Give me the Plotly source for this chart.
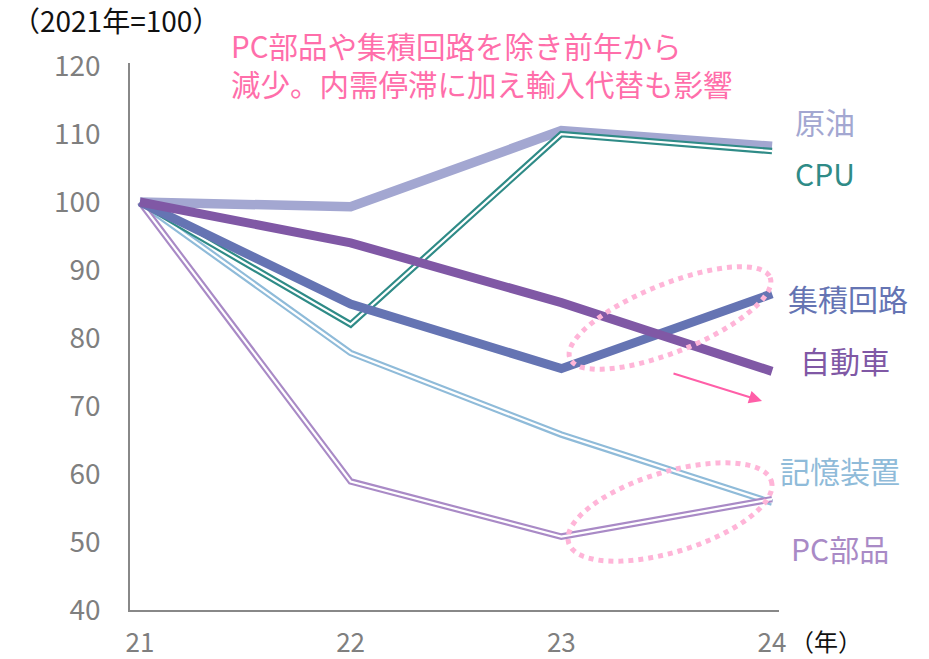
import math
import plotly.graph_objects as go

# ---- data ----
years = [21, 22, 23, 24]
year_labels = ["21", "22", "23", "24"]
crude_oil = [100, 99.3, 110.5, 108.2]      # 原油
cpu = [100, 82.0, 110.0, 107.5]            # CPU
ic = [100, 85.0, 75.5, 86.5]               # 集積回路
autos = [100, 94.0, 85.2, 75.1]            # 自動車
storage = [100, 77.8, 65.8, 55.8]          # 記憶装置
pc_parts = [100, 58.9, 50.8, 56.3]         # PC部品
y_ticks = [40, 50, 60, 70, 80, 90, 100, 110, 120]

FONT = "Noto Sans CJK JP, Noto Sans, sans-serif"

# layout geometry
W, H = 929, 659
ML, MR, MT, MB = 130, 150, 63, 49
XR = [20.953, 24.033]
YR = [40, 120.45]
PW = W - ML - MR
PH = H - MT - MB


def px2x(px):
    return XR[0] + (px - ML) / PW * (XR[1] - XR[0])


def px2y(py):
    return YR[0] + (H - MB - py) / PH * (YR[1] - YR[0])


def fx(px):
    return (px - ML) / PW


def fy(py):
    return 1 - (py - MT) / PH


fig = go.Figure()


def single(y, color, width):
    fig.add_trace(go.Scatter(x=years, y=y, mode="lines",
                             line=dict(color=color, width=width),
                             hoverinfo="skip", showlegend=False))


def double(y, color, outer=6.5, inner=2.2):
    single(y, color, outer)
    single(y, "white", inner)


single(crude_oil, "#a3a7d1", 9.5)
double(storage, "#8fbbd9")
double(pc_parts, "#a98ac6")
double(cpu, "#2f8b87")
single(ic, "#6574b3", 9)
single(autos, "#8058a5", 9)


# dotted ellipses (defined in pixel geometry, converted to data units)
def ellipse_path(cx, cy, a, b, ang_deg, n=72):
    t = math.radians(ang_deg)
    pts = []
    for i in range(n + 1):
        u = 2 * math.pi * i / n
        ex, ey = a * math.cos(u), b * math.sin(u)
        px = cx + ex * math.cos(t) - ey * math.sin(t)
        py = cy + ex * math.sin(t) + ey * math.cos(t)
        pts.append((px2x(px), px2y(py)))
    d = "M " + " L ".join(f"{x:.5f},{y:.5f}" for x, y in pts) + " Z"
    return d


for (cx, cy, a, b, ang) in [(670, 318, 108, 34, -22), (670, 512, 106, 40, -17)]:
    fig.add_shape(type="path", path=ellipse_path(cx, cy, a, b, ang),
                  xref="x", yref="y",
                  line=dict(color="#ffb5d8", width=5, dash="dot"))

# arrow
fig.add_annotation(x=px2x(762), y=px2y(401), ax=px2x(672), ay=px2y(373),
                   xref="x", yref="y", axref="x", ayref="y",
                   showarrow=True, arrowhead=2, arrowsize=1.3, arrowwidth=2,
                   arrowcolor="#ff5fa8", text="")

# series labels
labels = [
    ("原油", 825, 121, "#a3a7d1"),
    ("CPU", 825, 173, "#2f8b87"),
    ("集積回路", 848, 298, "#6574b3"),
    ("自動車", 845, 360, "#8058a5"),
    ("記憶装置", 840, 470, "#8fbbd9"),
    ("PC部品", 840, 548, "#a98ac6"),
]
for txt, px, py, col in labels:
    fig.add_annotation(x=fx(px), y=fy(py), xref="paper", yref="paper",
                       text=txt, showarrow=False, xanchor="center", yanchor="middle",
                       font=dict(family=FONT, size=30, color=col))

# pink comment
fig.add_annotation(x=fx(229), y=fy(64), xref="paper", yref="paper",
                   text="PC部品や集積回路を除き前年から<br>減少。内需停滞に加え輸入代替も影響",
                   showarrow=False, xanchor="left", yanchor="middle", align="left",
                   font=dict(family=FONT, size=29.5, color="#ff6eaa"))

# unit labels
fig.add_annotation(x=fx(10), y=fy(20), xref="paper", yref="paper",
                   text="（2021年=100）", showarrow=False, xanchor="left", yanchor="middle",
                   font=dict(family=FONT, size=28, color="#111111"))
fig.add_annotation(x=fx(826), y=fy(640), xref="paper", yref="paper",
                   text="（年）", showarrow=False, xanchor="center", yanchor="middle",
                   borderpad=0,
                   font=dict(family=FONT, size=24, color="#111111"))

fig.update_layout(
    width=W, height=H,
    margin=dict(l=ML, r=MR, t=MT, b=MB, pad=0, autoexpand=False),
    paper_bgcolor="white", plot_bgcolor="white",
    showlegend=False,
    font=dict(family=FONT),
)
fig.update_xaxes(range=XR, tickvals=years, ticktext=year_labels,
                 showgrid=False, zeroline=False, showline=True,
                 linecolor="#888888", linewidth=1.5, ticks="",
                 automargin=False, ticklabelstandoff=9,
                 tickfont=dict(family=FONT, size=26, color="#7f7f7f"))
fig.update_yaxes(range=YR, tickvals=y_ticks,
                 showgrid=False, zeroline=False, showline=True,
                 linecolor="#888888", linewidth=1.5, ticks="",
                 automargin=False, ticklabelstandoff=22,
                 tickfont=dict(family=FONT, size=28, color="#7f7f7f"))

fig.write_html("out.html")
